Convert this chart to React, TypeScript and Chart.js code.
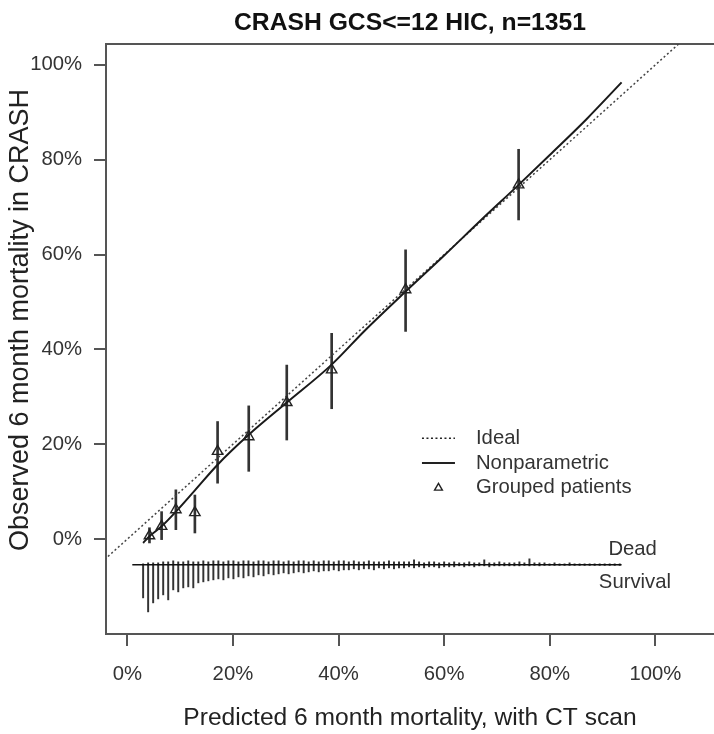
import React, { useEffect, useRef } from 'react';
import { Chart, registerables } from 'chart.js';

Chart.register(...registerables);

// ---------- text ----------
const TITLE = 'CRASH GCS<=12 HIC, n=1351';
const X_TITLE = 'Predicted 6 month mortality, with CT scan';
const Y_TITLE = 'Observed 6 month mortality in CRASH';
const LEGEND_LABELS = ['Ideal', 'Nonparametric', 'Grouped patients'];
const RUG_LABELS = ['Dead', 'Survival'];

// ---------- axes (percent) ----------
const X_TICKS = [0, 20, 40, 60, 80, 100];
const Y_TICKS = [0, 20, 40, 60, 80, 100];
const X_RANGE = [-4.03, 111.1];
const Y_RANGE = [-20, 104.4];

// ---------- ideal line y = x ----------
const IDEAL_X = [-10, 120];

// ---------- nonparametric calibration curve ----------
const NONPAR_X = [3.0, 4.2, 6.5, 9.2, 12.8, 17.1, 23.0, 30.2, 38.7, 45.0, 52.7, 60.0, 67.0, 74.1, 80.0, 87.0, 93.6];
const NONPAR_Y = [-0.8, 0.6, 2.7, 5.8, 10.3, 15.7, 22.0, 28.8, 36.8, 44.0, 52.2, 59.8, 67.3, 74.7, 81.0, 88.6, 96.3];

// ---------- grouped patients (mean + 95% CI) ----------
const GROUP_X = [4.2, 6.5, 9.2, 12.8, 17.1, 23.0, 30.2, 38.7, 52.7, 74.1];
const GROUP_Y = [0.7, 2.7, 6.2, 5.6, 18.5, 21.6, 28.8, 35.7, 52.6, 74.7];
const GROUP_LO = [-0.8, -0.1, 2.0, 1.3, 11.8, 14.3, 20.9, 27.5, 43.8, 67.3];
const GROUP_HI = [2.4, 5.8, 10.4, 9.3, 24.8, 28.1, 36.7, 43.4, 61.0, 82.2];

// ---------- spike histogram of predictions ----------
const SPIKE_BINS = [
  3.0, 3.95, 4.9, 5.85, 6.8, 7.75, 8.7, 9.65, 10.6, 11.55, 12.5, 13.45, 14.4, 15.35, 16.3, 17.25,
  18.2, 19.15, 20.1, 21.05, 22.0, 22.95, 23.9, 24.85, 25.8, 26.75, 27.7, 28.65, 29.6, 30.55, 31.5, 32.45,
  33.4, 34.35, 35.3, 36.25, 37.2, 38.15, 39.1, 40.05, 41.0, 41.95, 42.9, 43.85, 44.8, 45.75, 46.7, 47.65,
  48.6, 49.55, 50.5, 51.45, 52.4, 53.35, 54.3, 55.25, 56.2, 57.15, 58.1, 59.05, 60.0, 60.95, 61.9, 62.85,
  63.8, 64.75, 65.7, 66.65, 67.6, 68.55, 69.5, 70.45, 71.4, 72.35, 73.3, 74.25, 75.2, 76.15, 77.1, 78.05,
  79.0, 79.95, 80.9, 81.85, 82.8, 83.75, 84.7, 85.65, 86.6, 87.55, 88.5, 89.45, 90.4, 91.35, 92.3, 93.25,
];
const SURVIVAL_COUNTS = [
  33, 47, 38, 34, 30, 35, 25, 27, 23, 22, 23, 18, 17, 16, 15, 14,
  15, 13, 14, 12, 13, 11, 12, 10, 11, 9, 10, 9, 8, 9, 8, 7,
  8, 7, 6, 7, 6, 6, 5, 6, 5, 5, 4, 5, 4, 4, 5, 3,
  4, 3, 4, 3, 3, 2, 3, 2, 3, 2, 2, 3, 2, 2, 2, 1,
  2, 1, 2, 1, 1, 2, 1, 1, 1, 1, 1, 1, 0.5, 1, 0.5, 1,
  0.5, 0.5, 0.5, 0.5, 0.5, 0.5, 0.5, 0.5, 0.5, 0.5, 0.5, 0.5, 0.5, 0.5, 0.5, 0.5,
];
const DEAD_COUNTS = [
  1, 2, 2, 2, 3, 3, 4, 3, 3, 4, 3, 3, 4, 3, 4, 4,
  3, 4, 4, 3, 4, 4, 3, 4, 4, 3, 4, 4, 3, 4, 3, 4,
  4, 3, 4, 3, 4, 4, 3, 4, 4, 3, 4, 3, 3, 4, 3, 3,
  3, 4, 3, 3, 3, 3, 5, 3, 2, 3, 3, 2, 3, 2, 3, 2,
  2, 3, 2, 2, 5, 2, 2, 3, 2, 2, 2, 3, 2, 6, 2, 2,
  2, 1, 2, 1, 1, 2, 1, 1, 1, 1, 1, 1, 1, 1, 1, 1,
];
const SPIKE_UNIT = 0.211; // one count in y-axis percent units
const RUG_BASE = -5.42;
const RUG_X = [0.95, 93.6];

// ---------- style ----------
const FAMILY = "'Liberation Sans', Arial, Helvetica, sans-serif";
const SMALL = 20.3;
const TEXT = '#333';
const AXIS = '#555';

const annotate = {
  id: 'annotate',
  afterDraw(chart: any) {
    const { ctx, chartArea } = chart;
    const xs = chart.scales.x;
    const ys = chart.scales.y;
    ctx.save();

    // y-axis title
    ctx.save();
    ctx.translate(21, (chartArea.top + chartArea.bottom) / 2 - 19);
    ctx.rotate(-Math.PI / 2);
    ctx.font = `27px ${FAMILY}`;
    ctx.fillStyle = '#222';
    ctx.textAlign = 'center';
    ctx.textBaseline = 'middle';
    ctx.fillText(Y_TITLE, 0, 0);
    ctx.restore();

    // legend
    ctx.font = `${SMALL}px ${FAMILY}`;
    ctx.fillStyle = TEXT;
    ctx.textAlign = 'left';
    ctx.textBaseline = 'middle';
    const lx = xs.getPixelForValue(55.8);
    const ly = ys.getPixelForValue(21.25);
    const step = 24.75;
    LEGEND_LABELS.forEach((lab, i) => {
      const yy = ly + i * step;
      ctx.fillText(lab, lx + 54, yy);
      ctx.strokeStyle = '#222';
      if (i === 0) {
        ctx.setLineDash([2, 2.5]);
        ctx.lineWidth = 1.5;
        ctx.beginPath();
        ctx.moveTo(lx, yy);
        ctx.lineTo(lx + 33, yy);
        ctx.stroke();
        ctx.setLineDash([]);
      } else if (i === 1) {
        ctx.lineWidth = 2;
        ctx.beginPath();
        ctx.moveTo(lx, yy);
        ctx.lineTo(lx + 33, yy);
        ctx.stroke();
      } else {
        const r = 4.5;
        const cx = lx + 16.5;
        ctx.lineWidth = 1.4;
        ctx.beginPath();
        ctx.moveTo(cx, yy - r);
        ctx.lineTo(cx + r * 0.866, yy + r * 0.5);
        ctx.lineTo(cx - r * 0.866, yy + r * 0.5);
        ctx.closePath();
        ctx.stroke();
      }
    });

    // rug labels
    ctx.fillText(RUG_LABELS[0], xs.getPixelForValue(91.1), ys.getPixelForValue(-2.26));
    ctx.fillText(RUG_LABELS[1], xs.getPixelForValue(89.3), ys.getPixelForValue(-9.2));
    ctx.restore();
  },
};

const noPad = (s: any) => {
  s.paddingLeft = 0;
  s.paddingRight = 0;
  s.paddingTop = 0;
  s.paddingBottom = 0;
};

export default function App() {
  const ref = useRef<HTMLCanvasElement>(null);

  useEffect(() => {
    const canvas = ref.current;
    if (!canvas) return;
    Chart.defaults.font.family = FAMILY;

    const ideal = IDEAL_X.map((v) => ({ x: v, y: v }));
    const nonpar = NONPAR_X.map((v, i) => ({ x: v, y: NONPAR_Y[i] }));
    const groups = GROUP_X.map((v, i) => ({ x: v, y: GROUP_Y[i] }));
    const ci = GROUP_X.map((v, i) => ({ x: v, y: [GROUP_LO[i], GROUP_HI[i]] }));
    const dead = SPIKE_BINS.map((v, i) => ({ x: v, y: [RUG_BASE, RUG_BASE + DEAD_COUNTS[i] * SPIKE_UNIT] }));
    const surv = SPIKE_BINS.map((v, i) => ({ x: v, y: [RUG_BASE, RUG_BASE - SURVIVAL_COUNTS[i] * SPIKE_UNIT] }));
    const rugLine = RUG_X.map((v) => ({ x: v, y: RUG_BASE }));

    const chart = new Chart(canvas, {
      type: 'scatter',
      data: {
        datasets: [
          {
            type: 'scatter',
            label: 'Grouped patients',
            data: groups,
            pointStyle: 'triangle',
            pointRadius: 6,
            borderColor: '#222',
            borderWidth: 1.4,
            backgroundColor: 'rgba(255,255,255,0)',
            order: 0,
          },
          {
            type: 'line',
            label: 'Nonparametric',
            data: nonpar,
            borderColor: '#1a1a1a',
            borderWidth: 2,
            pointRadius: 0,
            cubicInterpolationMode: 'monotone',
            fill: false,
            order: 1,
          },
          {
            type: 'line',
            label: 'Ideal',
            data: ideal,
            borderColor: '#444',
            borderWidth: 1.5,
            borderDash: [2, 2.5],
            pointRadius: 0,
            fill: false,
            order: 2,
          },
          {
            type: 'bar',
            label: 'CI',
            data: ci as any,
            backgroundColor: '#333',
            barThickness: 2,
            grouped: false,
            order: 3,
          },
          {
            type: 'line',
            label: 'rug',
            data: rugLine,
            borderColor: '#111',
            borderWidth: 1.5,
            pointRadius: 0,
            fill: false,
            order: 4,
          },
          {
            type: 'bar',
            label: 'Dead',
            data: dead as any,
            backgroundColor: '#333',
            barThickness: 1.3,
            grouped: false,
            order: 5,
          },
          {
            type: 'bar',
            label: 'Survival',
            data: surv as any,
            backgroundColor: '#333',
            barThickness: 1.3,
            grouped: false,
            order: 6,
          },
        ],
      },
      options: {
        responsive: false,
        animation: false,
        events: [],
        layout: { padding: 0, autoPadding: false },
        plugins: { legend: { display: false }, tooltip: { enabled: false }, title: { display: false } },
        scales: {
          x: {
            type: 'linear',
            position: 'bottom',
            min: X_RANGE[0],
            max: X_RANGE[1],
            offset: false,
            afterBuildTicks: (s: any) => {
              s.ticks = X_TICKS.map((v) => ({ value: v }));
            },
            afterFit: (s: any) => {
              s.height = 100;
              noPad(s);
            },
            ticks: {
              callback: (v: any) => `${v}%`,
              font: { size: SMALL },
              color: TEXT,
              padding: 16,
              maxRotation: 0,
              autoSkip: false,
            },
            grid: { offset: false, drawOnChartArea: false, tickLength: 12, color: AXIS, lineWidth: 2 },
            border: { display: true, color: AXIS, width: 2 },
            title: {
              display: true,
              text: X_TITLE,
              font: { size: 24.6 },
              color: '#222',
              padding: { top: 0, bottom: 1 },
            },
          },
          xTop: {
            type: 'linear',
            position: 'top',
            display: true,
            min: X_RANGE[0],
            max: X_RANGE[1],
            offset: false,
            afterFit: (s: any) => {
              s.height = 44;
              noPad(s);
            },
            ticks: { display: false },
            grid: { offset: false, display: false, drawTicks: false },
            border: { display: true, color: AXIS, width: 2 },
            title: {
              display: true,
              text: TITLE,
              font: { size: 24.7, weight: 'bold' },
              color: '#111',
              padding: { top: 8, bottom: 0 },
            },
          },
          y: {
            type: 'linear',
            position: 'left',
            min: Y_RANGE[0],
            max: Y_RANGE[1],
            offset: false,
            afterBuildTicks: (s: any) => {
              s.ticks = Y_TICKS.map((v) => ({ value: v }));
            },
            afterFit: (s: any) => {
              s.width = 106;
              noPad(s);
            },
            ticks: {
              callback: (v: any) => `${v}%`,
              font: { size: SMALL },
              color: TEXT,
              padding: 12,
              autoSkip: false,
            },
            grid: { offset: false, drawOnChartArea: false, tickLength: 12, color: AXIS, lineWidth: 2 },
            border: { display: true, color: AXIS, width: 2 },
          },
        },
      },
      plugins: [annotate],
    } as any);

    return () => chart.destroy();
  }, []);

  return (
    <div style={{ position: 'fixed', left: 0, top: 0, width: 714, height: 734, background: '#fff', overflow: 'hidden' }}>
      <canvas ref={ref} width={714} height={734} style={{ width: 714, height: 734, display: 'block' }} />
    </div>
  );
}
